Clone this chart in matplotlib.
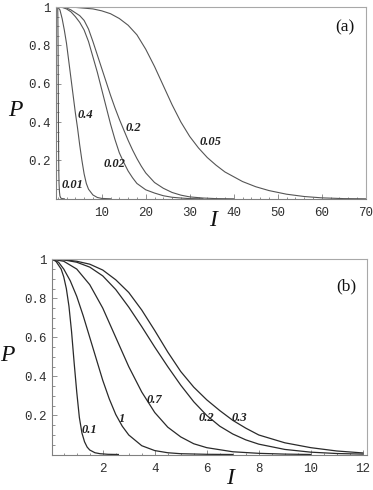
import matplotlib
matplotlib.use("Agg")
import matplotlib.pyplot as plt
from matplotlib.ticker import MultipleLocator, FixedLocator, FixedFormatter

# ---------------- data: panel (a) ----------------
a_labels = ["0.01", "0.4", "0.02", "0.2", "0.05"]
a_I_001 = [0, 0.04, 0.08, 0.12, 0.16, 0.2, 0.25, 0.3, 0.4, 0.5, 0.7, 1.0, 1.5]
a_P_001 = [1, 0.93, 0.8, 0.62, 0.42, 0.26, 0.14, 0.08, 0.035, 0.015, 0.004, 0.001, 0]
a_I_04 = [0, 0.5, 1, 1.5, 2, 2.5, 3, 3.5, 4, 4.5, 5, 5.5, 6, 6.5, 7, 8, 9, 10, 12]
a_P_04 = [1, 0.985, 0.94, 0.88, 0.81, 0.72, 0.63, 0.54, 0.45, 0.37, 0.28, 0.2, 0.13, 0.08, 0.05, 0.02, 0.007, 0.002, 0]
a_I_002 = [0, 1, 2, 3, 4, 5, 6, 7, 8, 9, 10, 11, 12, 13, 14, 15, 16, 17, 18, 20, 22, 24, 26, 28, 30, 33]
a_P_002 = [1, 0.998, 0.99, 0.975, 0.95, 0.92, 0.88, 0.82, 0.74, 0.66, 0.57, 0.48, 0.39, 0.31, 0.24, 0.19, 0.145, 0.11, 0.08, 0.047, 0.03, 0.016, 0.008, 0.004, 0.001, 0]
a_I_02 = [0, 1, 2, 3, 4, 5, 6, 7, 8, 9, 10, 11, 12, 13, 14, 15, 16, 17, 18, 19, 20, 22, 24, 26, 28, 30, 33, 36, 40]
a_P_02 = [1, 0.999, 0.995, 0.985, 0.97, 0.955, 0.93, 0.885, 0.82, 0.75, 0.68, 0.61, 0.54, 0.475, 0.415, 0.36, 0.305, 0.255, 0.21, 0.17, 0.135, 0.085, 0.055, 0.033, 0.019, 0.01, 0.004, 0.001, 0]
a_I_005 = [0, 4, 8, 10, 12, 14, 16, 18, 20, 22, 24, 26, 28, 30, 32, 34, 36, 38, 40, 42, 45, 48, 52, 56, 60, 65, 70]
a_P_005 = [1, 0.998, 0.99, 0.98, 0.965, 0.94, 0.905, 0.855, 0.78, 0.69, 0.59, 0.49, 0.40, 0.325, 0.265, 0.215, 0.175, 0.14, 0.115, 0.09, 0.063, 0.043, 0.024, 0.012, 0.005, 0.001, 0]
a_label_I = [3.4, 6.3, 12.9, 17.2, 34.8]
a_label_P = [0.072, 0.438, 0.18, 0.371, 0.298]
a_xticks = [10, 20, 30, 40, 50, 60, 70]

# ---------------- data: panel (b) ----------------
b_labels = ["0.1", "1", "0.7", "0.2", "0.3"]
b_I_01 = [0.06, 0.2, 0.4, 0.5, 0.6, 0.7, 0.8, 0.9, 1.0, 1.1, 1.2, 1.3, 1.4, 1.5, 1.7, 1.9, 2.2, 2.6]
b_P_01 = [1, 0.99, 0.95, 0.91, 0.85, 0.76, 0.63, 0.47, 0.32, 0.19, 0.11, 0.065, 0.038, 0.023, 0.009, 0.004, 0.001, 0]
b_I_1 = [0.06, 0.3, 0.5, 0.75, 1.0, 1.25, 1.5, 1.75, 2.0, 2.25, 2.5, 2.75, 3.0, 3.5, 4.0, 4.5, 5.0, 6.0, 7.0]
b_P_1 = [1, 0.985, 0.95, 0.89, 0.81, 0.71, 0.6, 0.49, 0.38, 0.285, 0.205, 0.145, 0.1, 0.045, 0.02, 0.009, 0.004, 0.001, 0]
b_I_07 = [0.06, 0.5, 1.0, 1.5, 2.0, 2.5, 3.0, 3.5, 4.0, 4.5, 5.0, 5.5, 6.0, 7.0, 8.0, 9.0, 10.0]
b_P_07 = [1, 0.99, 0.95, 0.87, 0.75, 0.6, 0.45, 0.32, 0.215, 0.14, 0.09, 0.055, 0.035, 0.014, 0.006, 0.002, 0]
b_I_02 = [0.06, 0.5, 1.0, 1.5, 2.0, 2.5, 3.0, 3.5, 4.0, 4.5, 5.0, 5.5, 6.0, 6.5, 7.0, 7.5, 8.0, 9.0, 10.0, 11.0, 12.0]
b_P_02 = [1, 0.997, 0.985, 0.96, 0.915, 0.845, 0.755, 0.655, 0.55, 0.45, 0.355, 0.27, 0.2, 0.145, 0.105, 0.075, 0.053, 0.026, 0.012, 0.005, 0.002]
b_I_03 = [0.06, 0.5, 1.0, 1.5, 2.0, 2.5, 3.0, 3.5, 4.0, 4.5, 5.0, 5.5, 6.0, 6.5, 7.0, 7.5, 8.0, 9.0, 10.0, 11.0, 12.0]
b_P_03 = [1, 0.998, 0.99, 0.975, 0.945, 0.895, 0.83, 0.74, 0.635, 0.525, 0.425, 0.345, 0.28, 0.225, 0.175, 0.135, 0.1, 0.06, 0.035, 0.018, 0.008]
b_label_I = [1.47, 2.73, 3.97, 6.0, 7.26]
b_label_P = [0.126, 0.182, 0.279, 0.185, 0.185]
b_xticks = [2, 4, 6, 8, 10, 12]

y_ticks = [0.2, 0.4, 0.6, 0.8, 1.0]
y_ticklabels = ["0.2", "0.4", "0.6", "0.8", "1"]

W, H = 373, 490
fig = plt.figure(figsize=(W / 100, H / 100), dpi=100)

def style_axes(ax, xlim, xticks, xminor):
    ax.set_xlim(*xlim)
    ax.set_ylim(0, 1.0)
    for s in ["top", "right"]:
        ax.spines[s].set_color("#a8a8a8")
        ax.spines[s].set_linewidth(0.8)
    for s in ["bottom", "left"]:
        ax.spines[s].set_color("#808080")
        ax.spines[s].set_linewidth(0.8)
    ax.xaxis.set_major_locator(FixedLocator(xticks))
    ax.xaxis.set_major_formatter(FixedFormatter([str(t) for t in xticks]))
    ax.xaxis.set_minor_locator(MultipleLocator(xminor))
    ax.yaxis.set_major_locator(FixedLocator(y_ticks))
    ax.yaxis.set_major_formatter(FixedFormatter(y_ticklabels))
    ax.yaxis.set_minor_locator(MultipleLocator(0.05))
    ax.tick_params(which="both", direction="in", top=False, right=False,
                   color="#808080", width=0.6)
    ax.tick_params(which="major", length=3.5)
    ax.tick_params(which="minor", length=1.8)
    ax.tick_params(axis="x", which="major", pad=6)
    ax.tick_params(axis="y", which="major", pad=4)
    for lab in ax.get_xticklabels() + ax.get_yticklabels():
        lab.set_fontfamily("Liberation Mono")
        lab.set_fontsize(9)
        lab.set_color("#303030")

lab_kw = dict(fontfamily="Liberation Serif", style="italic", weight="bold",
              fontsize=9, ha="center", va="center", color="#202020")
axis_kw = dict(fontfamily="Liberation Serif", style="italic",
               fontsize=17, ha="center", va="center", color="#111111")
panel_kw = dict(fontfamily="Liberation Serif", fontsize=12.5,
                ha="center", va="center", color="#111111")

# ---------------- panel (a) ----------------
axa = fig.add_axes([56 / W, 1 - 198.8 / H, (365.7 - 56) / W, (198.8 - 7) / H])
ca = "#555555"
for I, P in [(a_I_001, a_P_001), (a_I_04, a_P_04), (a_I_002, a_P_002),
             (a_I_02, a_P_02), (a_I_005, a_P_005)]:
    axa.plot(I, P, color=ca, lw=0.8)
style_axes(axa, (-0.39, 70.0), a_xticks, 2)
for t, x, y in zip(a_labels, a_label_I, a_label_P):
    axa.text(x, y, t, **lab_kw)
axa.text(65.3, 0.895, "(a)", **panel_kw)
fig.text(15 / W, 1 - 110 / H, "P", **axis_kw)
fig.text(213 / W, 1 - 220 / H, "I", **axis_kw)

# ---------------- panel (b) ----------------
axb = fig.add_axes([52.3 / W, 1 - 454.5 / H, (366.7 - 52.3) / W, 195.2 / H])
cb = "#2a2a2a"
for I, P in [(b_I_01, b_P_01), (b_I_1, b_P_1), (b_I_07, b_P_07),
             (b_I_02, b_P_02), (b_I_03, b_P_03)]:
    axb.plot(I, P, color=cb, lw=0.9)
style_axes(axb, (0.06, 12.15), b_xticks, 0.5)
for t, x, y in zip(b_labels, b_label_I, b_label_P):
    axb.text(x, y, t, **lab_kw)
axb.text(11.38, 0.86, "(b)", **panel_kw)
fig.text(7 / W, 1 - 355 / H, "P", **axis_kw)
fig.text(230 / W, 1 - 478 / H, "I", **axis_kw)

fig.savefig("out.png", dpi=100)
